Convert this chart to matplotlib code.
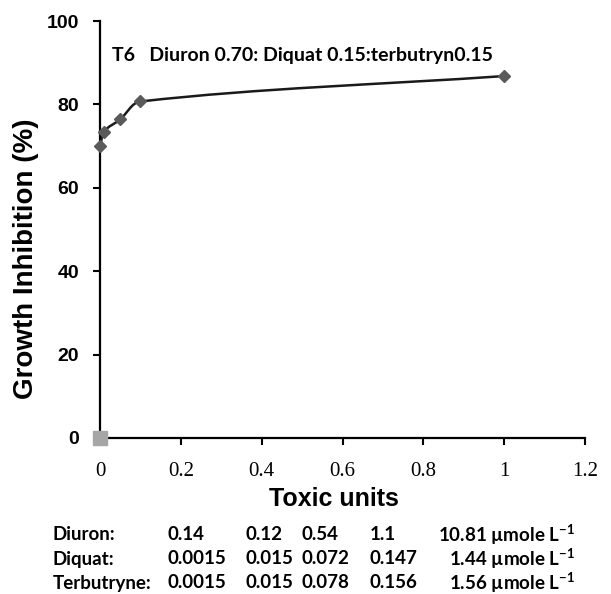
import numpy as np
import matplotlib
matplotlib.use("Agg")
import matplotlib.pyplot as plt
from matplotlib.path import Path
from matplotlib.patches import PathPatch

plt.rcParams['mathtext.fontset'] = 'custom'
plt.rcParams['mathtext.rm'] = 'Lato:bold'
plt.rcParams['mathtext.default'] = 'rm'

# data
toxic_units = [0.001, 0.01, 0.05, 0.1, 1.0]
inhibition = [70.0, 73.5, 76.4, 80.7, 86.8]
control_x = [0.0]
control_y = [0.0]

x_ticks = [0, 0.2, 0.4, 0.6, 0.8, 1.0, 1.2]
x_tick_labels = ["0", "0.2", "0.4", "0.6", "0.8", "1", "1.2"]
y_ticks = [0, 20, 40, 60, 80, 100]

mix_label = "T6   Diuron 0.70: Diquat 0.15:terbutryn0.15"

row_names = ["Diuron:", "Diquat:", "Terbutryne:"]
row_values = [
    ["0.14", "0.12", "0.54", "1.1", "10.81"],
    ["0.0015", "0.015", "0.072", "0.147", "1.44"],
    ["0.0015", "0.015", "0.078", "0.156", "1.56"],
]
unit = "\u00b5mole L$^{-1}$"

W, H = 611, 594
fig = plt.figure(figsize=(W / 100, H / 100), dpi=100)
ax = fig.add_axes([100 / W, 156 / H, 485 / W, 417 / H])
ax.set_xlim(0, 1.2)
ax.set_ylim(0, 100)

for s in ['top', 'right']:
    ax.spines[s].set_visible(False)
for s in ['left', 'bottom']:
    ax.spines[s].set_linewidth(1.6)
    ax.spines[s].set_color('black')

ax.set_xticks(x_ticks)
ax.set_xticklabels(x_tick_labels, family='Liberation Serif', fontsize=15)
ax.set_yticks(y_ticks)
ax.set_yticklabels([str(v) for v in y_ticks], family='Liberation Sans',
                   fontsize=14, fontweight='bold')
ax.tick_params(axis='x', direction='out', length=5, width=1.5, pad=12)
ax.tick_params(axis='y', direction='out', length=5, width=1.5, pad=10)

ax.set_xlabel("Toxic units", family='Liberation Sans', fontweight='bold', fontsize=18)
ax.xaxis.set_label_coords(0.482, -0.117)
ax.set_ylabel("Growth Inhibition (%)", family='Liberation Sans', fontweight='bold', fontsize=20)
ax.yaxis.set_label_coords(-0.126, 0.43)

# smooth line (bezier through the points, computed in pixel space)
pts = ax.transData.transform(np.column_stack([toxic_units, inhibition]))
n = len(pts)
verts = [tuple(pts[0])]
codes = [Path.MOVETO]
for i in range(n - 1):
    p0, p1 = pts[i], pts[i + 1]
    seg = np.hypot(*(p1 - p0))
    ta = pts[min(i + 1, n - 1)] - pts[max(i - 1, 0)]
    tb = pts[min(i + 2, n - 1)] - pts[i]
    ta = ta / np.hypot(*ta)
    tb = tb / np.hypot(*tb)
    c1 = p0 + ta * seg / 3.0
    c2 = p1 - tb * seg / 3.0
    verts += [tuple(c1), tuple(c2), tuple(p1)]
    codes += [Path.CURVE4] * 3
verts = ax.transData.inverted().transform(np.array(verts))
ax.add_patch(PathPatch(Path(verts, codes), facecolor='none', edgecolor='#1a1a1a',
                       linewidth=1.8, zorder=3))
ax.plot(toxic_units, inhibition, linestyle='none', marker='D', markersize=5.8,
        color='#5a5a5a', zorder=4, clip_on=False)
ax.plot(control_x, control_y, linestyle='none', marker='s', markersize=10,
        color='#a6a6a6', zorder=5, clip_on=False)

ax.text(12 / 485, 1 - 34 / 417, mix_label, transform=ax.transAxes,
        family='Lato', fontweight='bold', fontsize=14, va='center', ha='left')

# concentration table under the chart
col_x = [53, 167, 246, 302, 370]
row_y = [535, 559, 583]
for r, name in enumerate(row_names):
    yy = 1 - row_y[r] / H
    fig.text(col_x[0] / W, yy, name, family='Lato', fontweight='bold',
             fontsize=13.5, va='center', ha='left')
    for c, val in enumerate(row_values[r][:4]):
        fig.text(col_x[c + 1] / W, yy, val, family='Lato', fontweight='bold',
                 fontsize=13.5, va='center', ha='left')
    fig.text(575 / W, yy, row_values[r][4] + " " + unit, family='Lato',
             fontweight='bold', fontsize=13.5, va='center', ha='right')

fig.savefig("out.png", dpi=100)
